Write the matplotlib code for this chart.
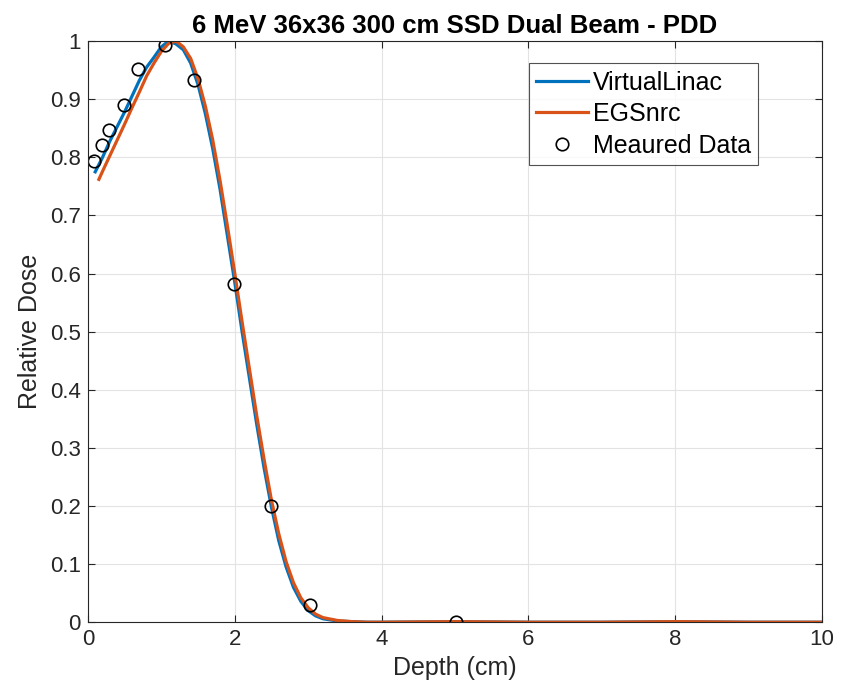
import matplotlib
matplotlib.use("Agg")
import matplotlib.pyplot as plt

plt.rcParams['font.family'] = ['Liberation Sans', 'DejaVu Sans']

# VirtualLinac curve
vl_depth = [0.1, 0.2, 0.3, 0.4, 0.5, 0.6, 0.7, 0.8, 0.9, 1.0, 1.1, 1.2, 1.3, 1.4, 1.5,
            1.6, 1.7, 1.8, 1.9, 2.0, 2.1, 2.2, 2.3, 2.4, 2.5, 2.6, 2.7, 2.8, 2.9, 3.0,
            3.1, 3.2, 3.4, 3.6, 3.8, 4.0, 5.0, 6.0, 7.0, 8.0, 9.0, 10.0]
vl_dose = [0.775, 0.80, 0.828, 0.853, 0.878, 0.905, 0.932, 0.955, 0.972, 0.99, 1.0, 0.995, 0.985, 0.962, 0.925,
           0.875, 0.815, 0.745, 0.665, 0.585, 0.50, 0.42, 0.34, 0.265, 0.198, 0.14, 0.095, 0.06, 0.036, 0.02,
           0.011, 0.006, 0.002, 0.001, 0.0, 0.0, 0.001, 0.0, 0.0, 0.001, 0.0, 0.0]

# EGSnrc curve
egs_depth = [0.15, 0.2, 0.3, 0.4, 0.5, 0.6, 0.7, 0.8, 0.9, 1.0, 1.1, 1.2, 1.3, 1.4, 1.5,
             1.6, 1.7, 1.8, 1.9, 2.0, 2.1, 2.2, 2.3, 2.4, 2.5, 2.6, 2.7, 2.8, 2.9, 3.0,
             3.1, 3.2, 3.4, 3.6, 3.8, 4.0, 5.0, 6.0, 7.0, 8.0, 9.0, 10.0]
egs_dose = [0.762, 0.776, 0.803, 0.83, 0.857, 0.885, 0.912, 0.94, 0.962, 0.982, 0.996, 1.0, 0.99, 0.97, 0.935,
            0.888, 0.83, 0.76, 0.682, 0.601, 0.517, 0.436, 0.355, 0.28, 0.21, 0.152, 0.104, 0.068, 0.042, 0.025,
            0.014, 0.008, 0.003, 0.001, 0.0, 0.0, 0.001, 0.0, 0.0, 0.001, 0.0, 0.0]

# Measured data
meas_depth = [0.08, 0.19, 0.29, 0.49, 0.68, 1.05, 1.44, 1.99, 2.5, 3.02, 5.01]
meas_dose = [0.793, 0.822, 0.847, 0.89, 0.952, 0.993, 0.933, 0.582, 0.2, 0.03, 0.0]

fig = plt.figure(figsize=(8.45, 6.96), dpi=100)
ax = fig.add_axes([0.104, 0.106, 0.869, 0.835])

ax.plot(vl_depth, vl_dose, color='#0072BD', lw=2.3, label='VirtualLinac')
ax.plot(egs_depth, egs_dose, color='#D95319', lw=2.3, label='EGSnrc')
ax.plot(meas_depth, meas_dose, 'o', mfc='none', mec='black', ms=9, mew=1.2, label='Meaured Data')

ax.set_xlim(0, 10)
ax.set_ylim(0, 1)
ax.set_xticks([0, 2, 4, 6, 8, 10])
ax.set_yticks([i / 10 for i in range(11)])
ax.set_yticklabels(['0', '0.1', '0.2', '0.3', '0.4', '0.5', '0.6', '0.7', '0.8', '0.9', '1'])
ax.grid(True, color='#e3e3e3', lw=0.8)
ax.set_axisbelow(True)
ax.tick_params(direction='in', labelsize=16, length=5, colors='#262626', top=True, right=True,
               labeltop=False, labelright=False, pad=5)
for s in ax.spines.values():
    s.set_color('#262626')
    s.set_linewidth(0.8)

ax.set_xlabel('Depth (cm)', fontsize=18, color='#262626', labelpad=4)
ax.set_ylabel('Relative Dose', fontsize=18, color='#262626', labelpad=6)
ax.set_title('6 MeV 36x36 300 cm SSD Dual Beam - PDD', fontsize=18.5, fontweight='bold', pad=6)

leg = ax.legend(loc='upper right', bbox_to_anchor=(0.913, 0.962), fontsize=18, frameon=True,
                fancybox=False, edgecolor='#262626', handlelength=2.05, borderpad=0.3,
                labelspacing=0.3, handletextpad=0.2, borderaxespad=0)
leg.get_frame().set_linewidth(0.8)

fig.savefig('out.png', dpi=100)
